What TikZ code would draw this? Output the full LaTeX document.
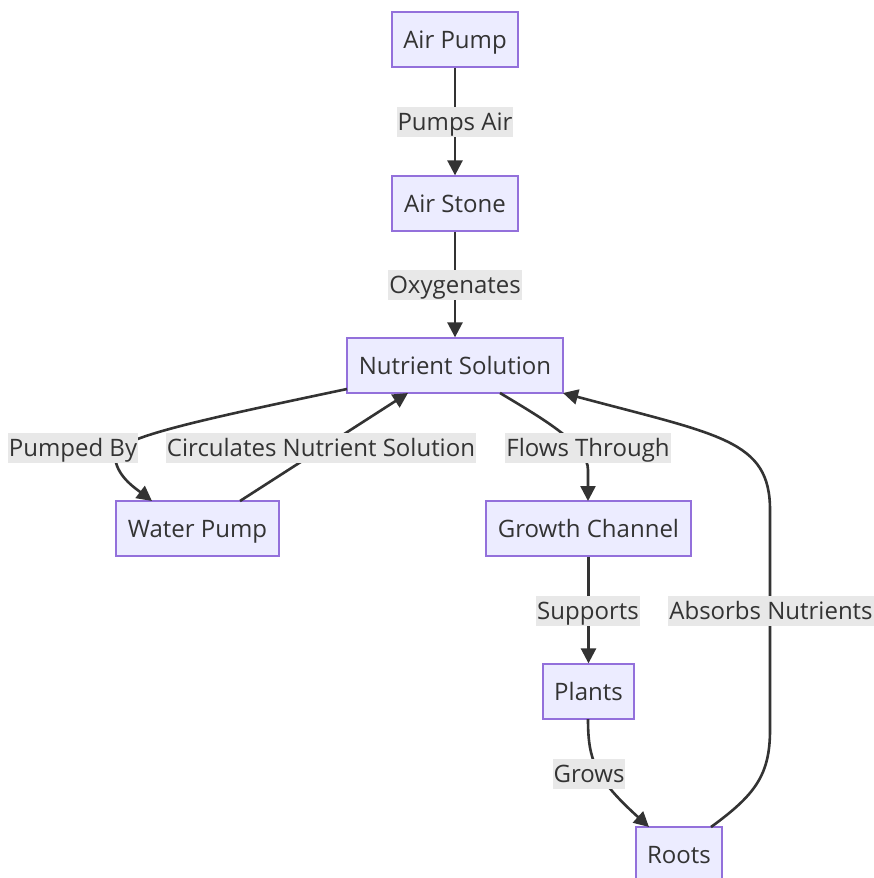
\documentclass[tikz,border=0pt]{standalone}
\usepackage{fontspec}
\setmainfont{Open Sans}
\usetikzlibrary{arrows.meta}
\definecolor{boxfill}{HTML}{ECECFF}
\definecolor{boxdraw}{HTML}{9370DB}
\definecolor{ink}{HTML}{333333}
\definecolor{lblbg}{HTML}{E8E8E8}
\tikzset{
  box/.style={draw=boxdraw, fill=boxfill, line width=1.3pt, text=ink, inner sep=0pt, minimum height=55pt, text height=17pt, text depth=0pt, font=\fontsize{24}{28}\selectfont},
  lbl/.style={fill=lblbg, text=ink, inner xsep=1pt, inner ysep=0pt, minimum height=30pt, text height=17pt, text depth=0pt, font=\fontsize{24}{28}\selectfont},
  edge/.style={draw=ink, line width=2.6pt, -{Triangle[length=15pt,width=15pt]}},
}
\begin{document}
\begin{tikzpicture}[x=1pt,y=-1pt]
\useasboundingbox (0,0) rectangle (874,878);
% nodes
\node[box, minimum width=126pt] (ap) at (455,39.5) {Air Pump};
\node[box, minimum width=126pt] (as) at (455,203.5) {Air Stone};
\node[box, minimum width=216pt] (ns) at (455,365.5) {Nutrient Solution};
\node[box, minimum width=163pt] (wp) at (197.5,528.5) {Water Pump};
\node[box, minimum width=205pt] (gc) at (588.5,528.5) {Growth Channel};
\node[box, minimum width=91pt] (pl) at (588.5,691.5) {Plants};
\node[box, minimum width=86pt] (rt) at (679,854.5) {Roots};
% connector anchors
\coordinate (nsL) at (347,389);
\coordinate (wpT) at (152,501);
\coordinate (wpR) at (240,501);
\coordinate (nsB) at (408,393);
\coordinate (nsR) at (500,393);
\coordinate (gcT) at (588,501);
\coordinate (plB) at (588,719);
\coordinate (rtT) at (649,827);
\coordinate (rtR) at (711,827);
\coordinate (nsBR) at (563,393);
% edges
\draw[edge] (ap) -- (as);
\draw[edge] (as) -- (ns);
\draw[edge] (nsL) .. controls (200,420) and (115,438) .. (115,455) .. controls (115,475) and (135,488) .. (wpT);
\draw[edge] (wpR) -- (nsB);
\draw[edge] (nsR) .. controls (545,420) and (588,445) .. (588,470) -- (gcT);
\draw[edge] (gc) -- (pl);
\draw[edge] (plB) .. controls (588,760) and (595,778) .. (rtT);
\draw[edge] (rtR) .. controls (755,795) and (770,775) .. (770,730) -- (770,510) .. controls (770,440) and (720,435) .. (nsBR);
% labels
\node[lbl] (l1) at (455,122) {Pumps Air};
\node[lbl] (l2) at (455,285) {Oxygenates};
\node[lbl] (l3) at (73,448) {Pumped By};
\node[lbl] (l4) at (321,448) {Circulates Nutrient Solution};
\node[lbl] (l5) at (588,448) {Flows Through};
\node[lbl] (l6) at (588,611) {Supports};
\node[lbl] (l7) at (771,611) {Absorbs Nutrients};
\node[lbl] (l8) at (589,773.5) {Grows};
\end{tikzpicture}
\end{document}
